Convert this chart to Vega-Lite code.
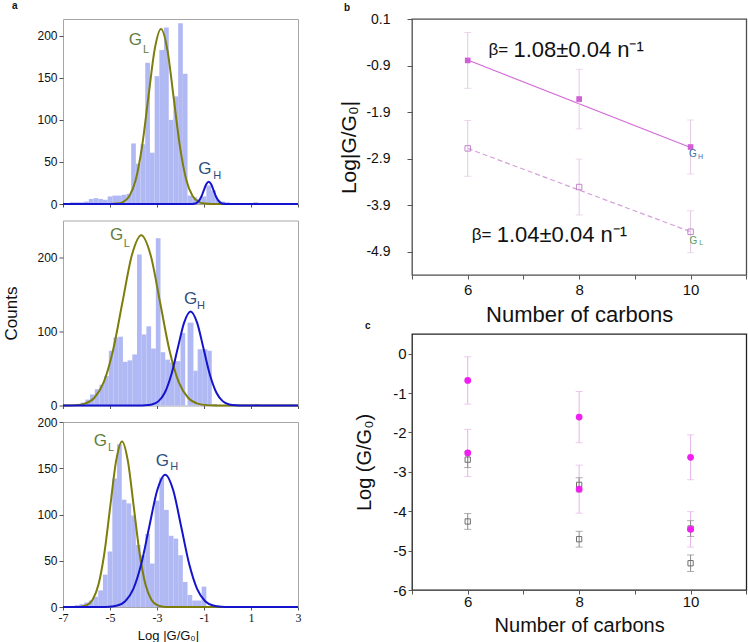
{
  "$schema": "https://vega.github.io/schema/vega-lite/v6.json",
  "background": "white",
  "padding": {"left": 2, "top": 0, "right": 0, "bottom": 0},
  "spacing": 35,
  "resolve": {"scale": {"color": "independent", "size": "independent"}},
  "config": {
    "font": "Liberation Sans",
    "view": {"stroke": null},
    "axis": {
      "domain": false,
      "grid": false,
      "labelFont": "Liberation Sans",
      "titleFont": "Liberation Sans",
      "titleFontWeight": "normal",
      "labelColor": "#111",
      "titleColor": "#111",
      "tickColor": "#555",
      "labelOverlap": false,
      "labelFlush": false
    },
    "title": {"font": "Liberation Sans", "fontSize": 10, "fontWeight": "bold", "anchor": "start", "frame": "group", "color": "#111"}
  },
  "datasets": {
    "hist": [
      {"p": 1, "s": -6.9, "e": -6.7, "n": 1}, {"p": 1, "s": -6.7, "e": -6.5, "n": 2}, {"p": 1, "s": -6.5, "e": -6.3, "n": 2},
      {"p": 1, "s": -6.3, "e": -6.1, "n": 2}, {"p": 1, "s": -6.1, "e": -5.9, "n": 3}, {"p": 1, "s": -5.9, "e": -5.7, "n": 6},
      {"p": 1, "s": -5.7, "e": -5.5, "n": 7}, {"p": 1, "s": -5.5, "e": -5.3, "n": 6}, {"p": 1, "s": -5.3, "e": -5.1, "n": 5},
      {"p": 1, "s": -5.1, "e": -4.9, "n": 9}, {"p": 1, "s": -4.9, "e": -4.7, "n": 10}, {"p": 1, "s": -4.7, "e": -4.5, "n": 10},
      {"p": 1, "s": -4.5, "e": -4.3, "n": 11}, {"p": 1, "s": -4.3, "e": -4.1, "n": 12}, {"p": 1, "s": -4.1, "e": -3.9, "n": 72},
      {"p": 1, "s": -3.9, "e": -3.7, "n": 48}, {"p": 1, "s": -3.7, "e": -3.5, "n": 71}, {"p": 1, "s": -3.5, "e": -3.3, "n": 168},
      {"p": 1, "s": -3.3, "e": -3.1, "n": 61}, {"p": 1, "s": -3.1, "e": -2.9, "n": 152}, {"p": 1, "s": -2.9, "e": -2.7, "n": 183},
      {"p": 1, "s": -2.7, "e": -2.5, "n": 210}, {"p": 1, "s": -2.5, "e": -2.3, "n": 100}, {"p": 1, "s": -2.3, "e": -2.1, "n": 128},
      {"p": 1, "s": -2.1, "e": -1.9, "n": 215}, {"p": 1, "s": -1.9, "e": -1.7, "n": 155}, {"p": 1, "s": -1.7, "e": -1.5, "n": 10},
      {"p": 1, "s": -1.5, "e": -1.3, "n": 8}, {"p": 1, "s": -1.3, "e": -1.1, "n": 6}, {"p": 1, "s": -1.1, "e": -0.9, "n": 9},
      {"p": 1, "s": -0.9, "e": -0.7, "n": 22}, {"p": 1, "s": -0.7, "e": -0.5, "n": 16}, {"p": 1, "s": -0.5, "e": -0.3, "n": 5},
      {"p": 1, "s": -0.3, "e": -0.1, "n": 3}, {"p": 1, "s": -0.1, "e": 0.1, "n": 2}, {"p": 1, "s": 0.1, "e": 0.3, "n": 1},
      {"p": 1, "s": 0.7, "e": 0.9, "n": 1}, {"p": 1, "s": 1.1, "e": 1.3, "n": 2}, {"p": 1, "s": 1.3, "e": 1.5, "n": 1},
      {"p": 2, "s": -6.45, "e": -6.25, "n": 2}, {"p": 2, "s": -6.25, "e": -6.05, "n": 4}, {"p": 2, "s": -6.05, "e": -5.85, "n": 8},
      {"p": 2, "s": -5.85, "e": -5.65, "n": 15}, {"p": 2, "s": -5.65, "e": -5.45, "n": 22}, {"p": 2, "s": -5.45, "e": -5.25, "n": 28},
      {"p": 2, "s": -5.25, "e": -5.05, "n": 40}, {"p": 2, "s": -5.05, "e": -4.85, "n": 74}, {"p": 2, "s": -4.85, "e": -4.65, "n": 92},
      {"p": 2, "s": -4.65, "e": -4.45, "n": 93}, {"p": 2, "s": -4.45, "e": -4.25, "n": 59}, {"p": 2, "s": -4.25, "e": -4.05, "n": 61},
      {"p": 2, "s": -4.05, "e": -3.85, "n": 69}, {"p": 2, "s": -3.85, "e": -3.65, "n": 204}, {"p": 2, "s": -3.65, "e": -3.45, "n": 96},
      {"p": 2, "s": -3.45, "e": -3.25, "n": 107}, {"p": 2, "s": -3.25, "e": -3.05, "n": 77}, {"p": 2, "s": -3.05, "e": -2.85, "n": 226},
      {"p": 2, "s": -2.85, "e": -2.65, "n": 72}, {"p": 2, "s": -2.65, "e": -2.45, "n": 62}, {"p": 2, "s": -2.45, "e": -2.25, "n": 58},
      {"p": 2, "s": -2.25, "e": -2.0, "n": 60}, {"p": 2, "s": -2.0, "e": -1.8, "n": 98}, {"p": 2, "s": -1.7, "e": -1.45, "n": 112},
      {"p": 2, "s": -1.45, "e": -1.27, "n": 47}, {"p": 2, "s": -1.27, "e": -1.05, "n": 76}, {"p": 2, "s": -1.05, "e": -0.85, "n": 76},
      {"p": 2, "s": -0.85, "e": -0.67, "n": 74}, {"p": 2, "s": -0.65, "e": -0.45, "n": 2}, {"p": 2, "s": 0.35, "e": 0.55, "n": 1},
      {"p": 2, "s": 1.15, "e": 1.35, "n": 2},
      {"p": 3, "s": -6.5, "e": -6.3, "n": 2}, {"p": 3, "s": -6.3, "e": -6.1, "n": 3}, {"p": 3, "s": -6.1, "e": -5.9, "n": 5},
      {"p": 3, "s": -5.9, "e": -5.7, "n": 7}, {"p": 3, "s": -5.7, "e": -5.5, "n": 11}, {"p": 3, "s": -5.5, "e": -5.3, "n": 18},
      {"p": 3, "s": -5.3, "e": -5.1, "n": 35}, {"p": 3, "s": -5.1, "e": -4.9, "n": 60}, {"p": 3, "s": -4.9, "e": -4.7, "n": 139},
      {"p": 3, "s": -4.7, "e": -4.5, "n": 176}, {"p": 3, "s": -4.5, "e": -4.3, "n": 116}, {"p": 3, "s": -4.3, "e": -4.1, "n": 112},
      {"p": 3, "s": -4.1, "e": -3.9, "n": 99}, {"p": 3, "s": -3.9, "e": -3.7, "n": 67}, {"p": 3, "s": -3.7, "e": -3.5, "n": 56},
      {"p": 3, "s": -3.5, "e": -3.3, "n": 79}, {"p": 3, "s": -3.3, "e": -3.1, "n": 47}, {"p": 3, "s": -3.1, "e": -2.9, "n": 115},
      {"p": 3, "s": -2.9, "e": -2.7, "n": 140}, {"p": 3, "s": -2.7, "e": -2.5, "n": 105}, {"p": 3, "s": -2.5, "e": -2.3, "n": 77},
      {"p": 3, "s": -2.3, "e": -2.1, "n": 74}, {"p": 3, "s": -2.1, "e": -1.9, "n": 56}, {"p": 3, "s": -1.9, "e": -1.7, "n": 27},
      {"p": 3, "s": -1.7, "e": -1.5, "n": 13}, {"p": 3, "s": -1.5, "e": -1.3, "n": 7}, {"p": 3, "s": -1.3, "e": -1.1, "n": 7},
      {"p": 3, "s": -1.1, "e": -0.9, "n": 22}, {"p": 3, "s": -0.9, "e": -0.7, "n": 1}, {"p": 3, "s": 1.1, "e": 1.3, "n": 1}
    ],
    "curve": [
      {"p": 1, "c": "L", "x": -7, "y": 0}, {"p": 1, "c": "L", "x": -4.99, "y": 0.06}, {"p": 1, "c": "L", "x": -4.72, "y": 0.46},
      {"p": 1, "c": "L", "x": -4.45, "y": 2.31}, {"p": 1, "c": "L", "x": -4.18, "y": 9.13}, {"p": 1, "c": "L", "x": -3.91, "y": 28.14},
      {"p": 1, "c": "L", "x": -3.64, "y": 67.54}, {"p": 1, "c": "L", "x": -3.37, "y": 126.15}, {"p": 1, "c": "L", "x": -3.1, "y": 183.56},
      {"p": 1, "c": "L", "x": -2.83, "y": 208}, {"p": 1, "c": "L", "x": -2.56, "y": 183.56}, {"p": 1, "c": "L", "x": -2.29, "y": 126.15},
      {"p": 1, "c": "L", "x": -2.02, "y": 67.54}, {"p": 1, "c": "L", "x": -1.75, "y": 28.14}, {"p": 1, "c": "L", "x": -1.48, "y": 9.13},
      {"p": 1, "c": "L", "x": -1.21, "y": 2.31}, {"p": 1, "c": "L", "x": -0.94, "y": 0.46}, {"p": 1, "c": "L", "x": -0.67, "y": 0.06},
      {"p": 1, "c": "L", "x": 3, "y": 0},
      {"p": 1, "c": "H", "x": -7, "y": 0}, {"p": 1, "c": "H", "x": -1.64, "y": 0.01}, {"p": 1, "c": "H", "x": -1.535, "y": 0.06},
      {"p": 1, "c": "H", "x": -1.43, "y": 0.29}, {"p": 1, "c": "H", "x": -1.325, "y": 1.16}, {"p": 1, "c": "H", "x": -1.22, "y": 3.59},
      {"p": 1, "c": "H", "x": -1.115, "y": 8.6}, {"p": 1, "c": "H", "x": -1.01, "y": 16.07}, {"p": 1, "c": "H", "x": -0.905, "y": 23.39},
      {"p": 1, "c": "H", "x": -0.8, "y": 26.5}, {"p": 1, "c": "H", "x": -0.695, "y": 23.39}, {"p": 1, "c": "H", "x": -0.59, "y": 16.07},
      {"p": 1, "c": "H", "x": -0.485, "y": 8.6}, {"p": 1, "c": "H", "x": -0.38, "y": 3.59}, {"p": 1, "c": "H", "x": -0.275, "y": 1.16},
      {"p": 1, "c": "H", "x": -0.17, "y": 0.29}, {"p": 1, "c": "H", "x": -0.065, "y": 0.06}, {"p": 1, "c": "H", "x": 0.04, "y": 0.01},
      {"p": 1, "c": "H", "x": 3, "y": 0},
      {"p": 2, "c": "L", "x": -7, "y": 0}, {"p": 2, "c": "L", "x": -6.87, "y": 0.07}, {"p": 2, "c": "L", "x": -6.47, "y": 0.51},
      {"p": 2, "c": "L", "x": -6.07, "y": 2.55}, {"p": 2, "c": "L", "x": -5.67, "y": 10.1}, {"p": 2, "c": "L", "x": -5.27, "y": 31.1},
      {"p": 2, "c": "L", "x": -4.87, "y": 74.7}, {"p": 2, "c": "L", "x": -4.47, "y": 139.5}, {"p": 2, "c": "L", "x": -4.07, "y": 203},
      {"p": 2, "c": "L", "x": -3.67, "y": 230}, {"p": 2, "c": "L", "x": -3.27, "y": 203}, {"p": 2, "c": "L", "x": -2.87, "y": 139.5},
      {"p": 2, "c": "L", "x": -2.47, "y": 74.7}, {"p": 2, "c": "L", "x": -2.07, "y": 31.1}, {"p": 2, "c": "L", "x": -1.67, "y": 10.1},
      {"p": 2, "c": "L", "x": -1.27, "y": 2.55}, {"p": 2, "c": "L", "x": -0.87, "y": 0.51}, {"p": 2, "c": "L", "x": -0.47, "y": 0.07},
      {"p": 2, "c": "L", "x": 3, "y": 0},
      {"p": 2, "c": "H", "x": -7, "y": 0}, {"p": 2, "c": "H", "x": -3.77, "y": 0.04}, {"p": 2, "c": "H", "x": -3.495, "y": 0.28},
      {"p": 2, "c": "H", "x": -3.22, "y": 1.41}, {"p": 2, "c": "H", "x": -2.945, "y": 5.58}, {"p": 2, "c": "H", "x": -2.67, "y": 17.2},
      {"p": 2, "c": "H", "x": -2.395, "y": 41.2}, {"p": 2, "c": "H", "x": -2.12, "y": 77}, {"p": 2, "c": "H", "x": -1.845, "y": 112.1},
      {"p": 2, "c": "H", "x": -1.57, "y": 127}, {"p": 2, "c": "H", "x": -1.295, "y": 112.1}, {"p": 2, "c": "H", "x": -1.02, "y": 77},
      {"p": 2, "c": "H", "x": -0.745, "y": 41.2}, {"p": 2, "c": "H", "x": -0.47, "y": 17.2}, {"p": 2, "c": "H", "x": -0.195, "y": 5.58},
      {"p": 2, "c": "H", "x": 0.08, "y": 1.41}, {"p": 2, "c": "H", "x": 0.355, "y": 0.28}, {"p": 2, "c": "H", "x": 0.63, "y": 0.04},
      {"p": 2, "c": "H", "x": 3, "y": 0},
      {"p": 3, "c": "L", "x": -7, "y": 0}, {"p": 3, "c": "L", "x": -6.49, "y": 0.05}, {"p": 3, "c": "L", "x": -6.24, "y": 0.39},
      {"p": 3, "c": "L", "x": -5.99, "y": 1.99}, {"p": 3, "c": "L", "x": -5.74, "y": 7.86}, {"p": 3, "c": "L", "x": -5.49, "y": 24.2},
      {"p": 3, "c": "L", "x": -5.24, "y": 58.1}, {"p": 3, "c": "L", "x": -4.99, "y": 108.6}, {"p": 3, "c": "L", "x": -4.74, "y": 158},
      {"p": 3, "c": "L", "x": -4.49, "y": 179}, {"p": 3, "c": "L", "x": -4.24, "y": 158}, {"p": 3, "c": "L", "x": -3.99, "y": 108.6},
      {"p": 3, "c": "L", "x": -3.74, "y": 58.1}, {"p": 3, "c": "L", "x": -3.49, "y": 24.2}, {"p": 3, "c": "L", "x": -3.24, "y": 7.86},
      {"p": 3, "c": "L", "x": -2.99, "y": 1.99}, {"p": 3, "c": "L", "x": -2.74, "y": 0.39}, {"p": 3, "c": "L", "x": -2.49, "y": 0.05},
      {"p": 3, "c": "L", "x": 3, "y": 0},
      {"p": 3, "c": "H", "x": -7, "y": 0}, {"p": 3, "c": "H", "x": -5.37, "y": 0.05}, {"p": 3, "c": "H", "x": -5.03, "y": 0.31},
      {"p": 3, "c": "H", "x": -4.69, "y": 1.59}, {"p": 3, "c": "H", "x": -4.35, "y": 6.28}, {"p": 3, "c": "H", "x": -4.01, "y": 19.3},
      {"p": 3, "c": "H", "x": -3.67, "y": 46.4}, {"p": 3, "c": "H", "x": -3.33, "y": 86.7}, {"p": 3, "c": "H", "x": -2.99, "y": 126.2},
      {"p": 3, "c": "H", "x": -2.65, "y": 143}, {"p": 3, "c": "H", "x": -2.31, "y": 126.2}, {"p": 3, "c": "H", "x": -1.97, "y": 86.7},
      {"p": 3, "c": "H", "x": -1.63, "y": 46.4}, {"p": 3, "c": "H", "x": -1.29, "y": 19.3}, {"p": 3, "c": "H", "x": -0.95, "y": 6.28},
      {"p": 3, "c": "H", "x": -0.61, "y": 1.59}, {"p": 3, "c": "H", "x": -0.27, "y": 0.31}, {"p": 3, "c": "H", "x": 0.07, "y": 0.05},
      {"p": 3, "c": "H", "x": 3, "y": 0}
    ],
    "glab": [
      {"p": 1, "c": "L", "k": "m", "x": -3.92, "y": 195, "t": "G"}, {"p": 1, "c": "L", "k": "s", "x": -3.47, "y": 183, "t": "L"},
      {"p": 1, "c": "H", "k": "m", "x": -0.96, "y": 42, "t": "G"}, {"p": 1, "c": "H", "k": "s", "x": -0.44, "y": 33, "t": "H"},
      {"p": 2, "c": "L", "k": "m", "x": -4.72, "y": 230, "t": "G"}, {"p": 2, "c": "L", "k": "s", "x": -4.28, "y": 218, "t": "L"},
      {"p": 2, "c": "H", "k": "m", "x": -1.57, "y": 144, "t": "G"}, {"p": 2, "c": "H", "k": "s", "x": -1.13, "y": 135, "t": "H"},
      {"p": 3, "c": "L", "k": "m", "x": -5.41, "y": 179, "t": "G"}, {"p": 3, "c": "L", "k": "s", "x": -4.95, "y": 172, "t": "L"},
      {"p": 3, "c": "H", "k": "m", "x": -2.77, "y": 158, "t": "G"}, {"p": 3, "c": "H", "k": "s", "x": -2.27, "y": 151, "t": "H"}
    ],
    "pb": [
      {"g": "H", "n": 6, "v": -0.79, "err": 0.6}, {"g": "H", "n": 8, "v": -1.62, "err": 0.64}, {"g": "H", "n": 10, "v": -2.65, "err": 0.58},
      {"g": "L", "n": 6, "v": -2.68, "err": 0.6}, {"g": "L", "n": 8, "v": -3.51, "err": 0.6}, {"g": "L", "n": 10, "v": -4.47, "err": 0.45}
    ],
    "fit": [
      {"g": "H", "n": 6, "v": -0.78}, {"g": "H", "n": 10, "v": -2.66},
      {"g": "L", "n": 6, "v": -2.68}, {"g": "L", "n": 10, "v": -4.47}
    ],
    "bann": [
      {"k": "b", "n": 6.55, "v": -0.57, "t": "β="}, {"k": "num", "n": 6.82, "v": -0.57, "t": "1.08±0.04 n⁻¹"},
      {"k": "b", "n": 6.25, "v": -4.55, "t": "β="}, {"k": "num", "n": 6.52, "v": -4.55, "t": "1.04±0.04 n⁻¹"}
    ],
    "bg": [
      {"c": "H", "k": "m", "n": 10.04, "v": -2.81, "t": "G"}, {"c": "H", "k": "s", "n": 10.18, "v": -2.87, "t": "H"},
      {"c": "L", "k": "m", "n": 10.05, "v": -4.66, "t": "G"}, {"c": "L", "k": "s", "n": 10.19, "v": -4.72, "t": "L"}
    ],
    "pc": [
      {"g": "M", "n": 6, "v": -0.68, "err": 0.6}, {"g": "M", "n": 6, "v": -2.52, "err": 0.6},
      {"g": "M", "n": 8, "v": -1.61, "err": 0.65}, {"g": "M", "n": 8, "v": -3.44, "err": 0.61},
      {"g": "M", "n": 10, "v": -2.63, "err": 0.57}, {"g": "M", "n": 10, "v": -4.46, "err": 0.45},
      {"g": "S", "n": 6, "v": -2.69, "err": 0.2}, {"g": "S", "n": 6, "v": -4.26, "err": 0.2},
      {"g": "S", "n": 8, "v": -3.33, "err": 0.18}, {"g": "S", "n": 8, "v": -4.71, "err": 0.2},
      {"g": "S", "n": 10, "v": -4.44, "err": 0.2}, {"g": "S", "n": 10, "v": -5.32, "err": 0.21}
    ]
  },
  "hconcat": [
    {
      "bounds": "flush",
      "spacing": 16.5,
      "vconcat": [
        {
          "width": 235,
          "height": 185,
          "view": {"stroke": "#a6a6a6"},
          "title": {"text": "a", "dx": -51, "offset": 8},
          "layer": [
            {
              "data": {"name": "hist"},
              "transform": [{"filter": "datum.p == 1"}],
              "mark": {"type": "rect", "fill": "#b1b9f4"},
              "encoding": {
                "x": {"field": "s", "type": "quantitative", "scale": {"domain": [-7, 3], "nice": false},
                  "axis": {"values": [-7, -6.5, -6, -5.5, -5, -4.5, -4, -3.5, -3, -2.5, -2, -1.5, -1, -0.5, 0, 0.5, 1, 1.5, 2, 2.5, 3],
                    "labels": false, "title": null, "tickSize": 3}},
                "x2": {"field": "e"},
                "y": {"field": "n", "type": "quantitative", "scale": {"domain": [0, 220], "nice": false},
                  "axis": {"values": [0, 25, 50, 75, 100, 125, 150, 175, 200], "labelExpr": "datum.value % 50 == 0 ? datum.label : ''",
                    "title": null, "tickSize": 4, "labelFontSize": 12, "labelPadding": 2}},
                "y2": {"datum": 0}
              }
            },
            {
              "data": {"name": "curve"},
              "transform": [{"filter": "datum.p == 1 && datum.c == 'L'"}],
              "mark": {"type": "line", "color": "#7d7d0c", "strokeWidth": 2, "interpolate": "monotone"},
              "encoding": {"x": {"field": "x", "type": "quantitative"}, "y": {"field": "y", "type": "quantitative"}}
            },
            {
              "data": {"name": "curve"},
              "transform": [{"filter": "datum.p == 1 && datum.c == 'H'"}],
              "mark": {"type": "line", "color": "#1414cc", "strokeWidth": 2, "interpolate": "monotone"},
              "encoding": {"x": {"field": "x", "type": "quantitative"}, "y": {"field": "y", "type": "quantitative"}}
            },
            {
              "data": {"name": "glab"},
              "transform": [{"filter": "datum.p == 1"}],
              "mark": {"type": "text", "align": "center", "baseline": "middle"},
              "encoding": {
                "x": {"field": "x", "type": "quantitative"},
                "y": {"field": "y", "type": "quantitative"},
                "text": {"field": "t"},
                "size": {"field": "k", "type": "nominal", "scale": {"domain": ["m", "s"], "range": [17, 11]}, "legend": null},
                "color": {"field": "c", "type": "nominal", "scale": {"domain": ["L", "H"], "range": ["#5f7d3c", "#2c4f7e"]}, "legend": null}
              }
            }
          ]
        },
        {
          "width": 235,
          "height": 185,
          "view": {"stroke": "#a6a6a6"},
          "layer": [
            {
              "data": {"name": "hist"},
              "transform": [{"filter": "datum.p == 2"}],
              "mark": {"type": "rect", "fill": "#b1b9f4"},
              "encoding": {
                "x": {"field": "s", "type": "quantitative", "scale": {"domain": [-7, 3], "nice": false},
                  "axis": {"values": [-7, -6.5, -6, -5.5, -5, -4.5, -4, -3.5, -3, -2.5, -2, -1.5, -1, -0.5, 0, 0.5, 1, 1.5, 2, 2.5, 3],
                    "labels": false, "title": null, "tickSize": 3}},
                "x2": {"field": "e"},
                "y": {"field": "n", "type": "quantitative", "scale": {"domain": [0, 250], "nice": false},
                  "axis": {"values": [0, 25, 50, 75, 100, 125, 150, 175, 200, 225, 250], "labelExpr": "datum.value % 50 == 0 ? datum.label : ''",
                    "title": "Counts", "titleFontSize": 17, "titlePadding": 16, "tickSize": 4, "labelFontSize": 12, "labelPadding": 2}},
                "y2": {"datum": 0}
              }
            },
            {
              "data": {"name": "curve"},
              "transform": [{"filter": "datum.p == 2 && datum.c == 'L'"}],
              "mark": {"type": "line", "color": "#7d7d0c", "strokeWidth": 2, "interpolate": "monotone"},
              "encoding": {"x": {"field": "x", "type": "quantitative"}, "y": {"field": "y", "type": "quantitative"}}
            },
            {
              "data": {"name": "curve"},
              "transform": [{"filter": "datum.p == 2 && datum.c == 'H'"}],
              "mark": {"type": "line", "color": "#1414cc", "strokeWidth": 2, "interpolate": "monotone"},
              "encoding": {"x": {"field": "x", "type": "quantitative"}, "y": {"field": "y", "type": "quantitative"}}
            },
            {
              "data": {"name": "glab"},
              "transform": [{"filter": "datum.p == 2"}],
              "mark": {"type": "text", "align": "center", "baseline": "middle"},
              "encoding": {
                "x": {"field": "x", "type": "quantitative"},
                "y": {"field": "y", "type": "quantitative"},
                "text": {"field": "t"},
                "size": {"field": "k", "type": "nominal", "scale": {"domain": ["m", "s"], "range": [17, 11]}, "legend": null},
                "color": {"field": "c", "type": "nominal", "scale": {"domain": ["L", "H"], "range": ["#5f7d3c", "#2c4f7e"]}, "legend": null}
              }
            }
          ]
        },
        {
          "width": 235,
          "height": 185,
          "view": {"stroke": "#a6a6a6"},
          "layer": [
            {
              "data": {"name": "hist"},
              "transform": [{"filter": "datum.p == 3"}],
              "mark": {"type": "rect", "fill": "#b1b9f4"},
              "encoding": {
                "x": {"field": "s", "type": "quantitative", "scale": {"domain": [-7, 3], "nice": false},
                  "axis": {"values": [-7, -6.5, -6, -5.5, -5, -4.5, -4, -3.5, -3, -2.5, -2, -1.5, -1, -0.5, 0, 0.5, 1, 1.5, 2, 2.5, 3],
                    "labelExpr": "datum.value % 1 == 0 ? replace(datum.label, '\u2212', '-') : ''",
                    "labelFont": "Liberation Serif", "labelFontSize": 12, "labelPadding": 2, "tickSize": 3,
                    "title": "Log |G/G₀|", "titleFontSize": 13, "titlePadding": 6, "titleX": 105}},
                "x2": {"field": "e"},
                "y": {"field": "n", "type": "quantitative", "scale": {"domain": [0, 200], "nice": false},
                  "axis": {"values": [0, 25, 50, 75, 100, 125, 150, 175, 200], "labelExpr": "datum.value % 50 == 0 ? datum.label : ''",
                    "title": null, "tickSize": 4, "labelFontSize": 12, "labelPadding": 2}},
                "y2": {"datum": 0}
              }
            },
            {
              "data": {"name": "curve"},
              "transform": [{"filter": "datum.p == 3 && datum.c == 'L'"}],
              "mark": {"type": "line", "color": "#7d7d0c", "strokeWidth": 2, "interpolate": "monotone"},
              "encoding": {"x": {"field": "x", "type": "quantitative"}, "y": {"field": "y", "type": "quantitative"}}
            },
            {
              "data": {"name": "curve"},
              "transform": [{"filter": "datum.p == 3 && datum.c == 'H'"}],
              "mark": {"type": "line", "color": "#1414cc", "strokeWidth": 2, "interpolate": "monotone"},
              "encoding": {"x": {"field": "x", "type": "quantitative"}, "y": {"field": "y", "type": "quantitative"}}
            },
            {
              "data": {"name": "glab"},
              "transform": [{"filter": "datum.p == 3"}],
              "mark": {"type": "text", "align": "center", "baseline": "middle"},
              "encoding": {
                "x": {"field": "x", "type": "quantitative"},
                "y": {"field": "y", "type": "quantitative"},
                "text": {"field": "t"},
                "size": {"field": "k", "type": "nominal", "scale": {"domain": ["m", "s"], "range": [17, 11]}, "legend": null},
                "color": {"field": "c", "type": "nominal", "scale": {"domain": ["L", "H"], "range": ["#5f7d3c", "#2c4f7e"]}, "legend": null}
              }
            }
          ]
        }
      ]
    },
    {
      "bounds": "flush",
      "spacing": 59,
      "vconcat": [
        {
          "width": 334.3,
          "height": 256,
          "view": {"stroke": "#4d4d4d", "strokeWidth": 1.3},
          "title": {"text": "b", "dx": -68, "offset": -1},
          "layer": [
            {
              "data": {"name": "fit"},
              "transform": [{"filter": "datum.g == 'H'"}],
              "mark": {"type": "line", "color": "#d46cd9", "strokeWidth": 1.2},
              "encoding": {
                "x": {"field": "n", "type": "quantitative", "scale": {"domain": [5, 11], "nice": false},
                  "axis": {"values": [5, 6, 7, 8, 9, 10, 11], "format": "d", "labelExpr": "datum.value == 6 || datum.value == 8 || datum.value == 10 ? datum.label : ''",
                    "title": "Number of carbons", "titleFontSize": 22, "titlePadding": 7, "labelFontSize": 15, "labelPadding": 3, "tickSize": 4}},
                "y": {"field": "v", "type": "quantitative", "scale": {"domain": [-5.4, 0.1], "nice": false},
                  "axis": {"values": [0.1, -0.9, -1.9, -2.9, -3.9, -4.9], "format": ".1f",
                    "labelExpr": "replace(datum.label, '\u2212', '-')",
                    "title": "Log|G/G₀|", "titleFontSize": 21, "titlePadding": 6, "labelFontSize": 14, "labelPadding": 17, "tickSize": 5}}
              }
            },
            {
              "data": {"name": "fit"},
              "transform": [{"filter": "datum.g == 'L'"}],
              "mark": {"type": "line", "color": "#d6a0da", "strokeWidth": 1.2, "strokeDash": [5, 3]},
              "encoding": {"x": {"field": "n", "type": "quantitative"}, "y": {"field": "v", "type": "quantitative"}}
            },
            {
              "data": {"name": "pb"},
              "mark": {"type": "errorbar", "color": "#e3c9e3", "ticks": {"size": 7}},
              "encoding": {
                "x": {"field": "n", "type": "quantitative", "title": "Number of carbons"},
                "y": {"field": "v", "type": "quantitative", "title": "Log|G/G₀|"},
                "yError": {"field": "err"}
              }
            },
            {
              "data": {"name": "pb"},
              "transform": [{"filter": "datum.g == 'H'"}],
              "mark": {"type": "point", "shape": "square", "filled": true, "color": "#d15fd6", "size": 32, "opacity": 1},
              "encoding": {"x": {"field": "n", "type": "quantitative"}, "y": {"field": "v", "type": "quantitative"}}
            },
            {
              "data": {"name": "pb"},
              "transform": [{"filter": "datum.g == 'L'"}],
              "mark": {"type": "point", "shape": "square", "filled": false, "color": "#c384cb", "size": 30, "strokeWidth": 1, "opacity": 1},
              "encoding": {"x": {"field": "n", "type": "quantitative"}, "y": {"field": "v", "type": "quantitative"}}
            },
            {
              "data": {"name": "bann"},
              "transform": [{"filter": "datum.k == 'b'"}],
              "mark": {"type": "text", "align": "center", "baseline": "middle", "fontSize": 17, "color": "#111"},
              "encoding": {"x": {"field": "n", "type": "quantitative"}, "y": {"field": "v", "type": "quantitative"}, "text": {"field": "t"}}
            },
            {
              "data": {"name": "bann"},
              "transform": [{"filter": "datum.k == 'num'"}],
              "mark": {"type": "text", "align": "left", "baseline": "middle", "fontSize": 22, "color": "#111"},
              "encoding": {"x": {"field": "n", "type": "quantitative"}, "y": {"field": "v", "type": "quantitative"}, "text": {"field": "t"}}
            },
            {
              "data": {"name": "bg"},
              "mark": {"type": "text", "align": "center", "baseline": "middle"},
              "encoding": {
                "x": {"field": "n", "type": "quantitative"},
                "y": {"field": "v", "type": "quantitative"},
                "text": {"field": "t"},
                "size": {"field": "k", "type": "nominal", "scale": {"domain": ["m", "s"], "range": [10, 7]}, "legend": null},
                "color": {"field": "c", "type": "nominal", "scale": {"domain": ["H", "L"], "range": ["#3c6ea8", "#5e9e52"]}, "legend": null}
              }
            }
          ]
        },
        {
          "width": 334.3,
          "height": 256,
          "view": {"stroke": "#222", "strokeWidth": 1.3},
          "title": {"text": "c", "dx": -47, "offset": 3},
          "layer": [
            {
              "data": {"name": "pc"},
              "transform": [{"filter": "datum.g == 'M'"}],
              "mark": {"type": "errorbar", "color": "#e6b3e6", "ticks": {"size": 7}},
              "encoding": {
                "x": {"field": "n", "type": "quantitative", "scale": {"domain": [5, 11], "nice": false},
                  "axis": {"values": [5, 6, 7, 8, 9, 10, 11], "format": "d", "labelExpr": "datum.value == 6 || datum.value == 8 || datum.value == 10 ? datum.label : ''",
                    "title": "Number of carbons", "titleFontSize": 20, "titlePadding": 6, "labelFontSize": 15, "labelPadding": 0, "tickSize": 4}},
                "y": {"field": "v", "type": "quantitative", "scale": {"domain": [-6, 0.5], "nice": false},
                  "axis": {"values": [-6, -5.5, -5, -4.5, -4, -3.5, -3, -2.5, -2, -1.5, -1, -0.5, 0, 0.5],
                    "labelExpr": "datum.value % 1 == 0 ? replace(datum.label, '\u2212', '-') : ''",
                    "title": "Log (G/G₀)", "titleFontSize": 20, "titlePadding": 18, "labelFontSize": 15, "labelPadding": 2, "tickSize": 4}},
                "yError": {"field": "err"}
              }
            },
            {
              "data": {"name": "pc"},
              "transform": [{"filter": "datum.g == 'S'"}],
              "mark": {"type": "errorbar", "color": "#8c8c8c", "ticks": {"size": 7}},
              "encoding": {
                "x": {"field": "n", "type": "quantitative", "title": "Number of carbons"},
                "y": {"field": "v", "type": "quantitative", "title": "Log (G/G₀)"},
                "yError": {"field": "err"}
              }
            },
            {
              "data": {"name": "pc"},
              "transform": [{"filter": "datum.g == 'S'"}],
              "mark": {"type": "point", "shape": "square", "filled": false, "color": "#6e6e6e", "size": 28, "strokeWidth": 1, "opacity": 1},
              "encoding": {"x": {"field": "n", "type": "quantitative"}, "y": {"field": "v", "type": "quantitative"}}
            },
            {
              "data": {"name": "pc"},
              "transform": [{"filter": "datum.g == 'M'"}],
              "mark": {"type": "circle", "color": "#f01ef0", "size": 45, "opacity": 1},
              "encoding": {"x": {"field": "n", "type": "quantitative"}, "y": {"field": "v", "type": "quantitative"}}
            }
          ]
        }
      ]
    }
  ]
}
